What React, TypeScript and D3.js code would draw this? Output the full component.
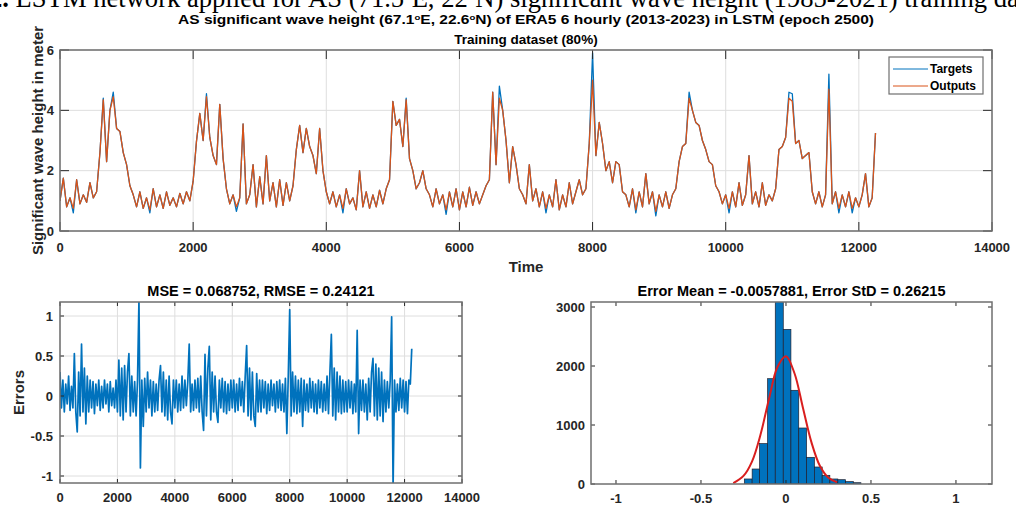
import React from "react";
import * as d3 from "d3";

// time step between stored samples (6-hourly index)
const seriesStep = 50;

// LSTM outputs, one value every 50 steps
const outputs = [
  1.0, 1.75, 0.8, 1.1, 0.75, 1.7, 0.9, 1.2, 0.95, 1.6,
  1.1, 1.3, 2.6, 4.35, 2.3, 4.0, 4.45, 3.4, 3.3, 2.6,
  2.2, 1.5, 1.2, 0.8, 1.3, 0.75, 1.1, 0.7, 1.4, 0.8,
  1.2, 0.75, 1.3, 0.85, 1.1, 0.8, 1.25, 0.9, 1.3, 1.0,
  1.65, 2.97, 3.9, 3.0, 4.45, 3.1, 2.5, 2.2, 4.2, 2.4,
  1.4, 0.9, 1.2, 0.8, 1.1, 3.55, 0.9, 1.2, 2.2, 0.8,
  1.8, 0.9, 2.5, 1.0, 1.6, 0.8, 1.7, 0.85, 1.6, 1.0,
  1.5, 2.7, 3.5, 2.6, 3.4, 2.8, 2.5, 1.9, 3.4, 2.0,
  1.3, 0.9, 1.3, 0.8, 1.2, 0.75, 1.4, 0.9, 1.1, 0.7,
  2.0, 0.8, 1.3, 0.75, 1.2, 0.8, 1.35, 0.9, 1.4, 1.7,
  4.3, 3.5, 3.7, 2.8, 4.35, 2.4, 2.0, 1.4, 1.6, 2.0,
  1.4, 1.2, 0.8, 1.4, 0.9, 1.2, 0.7, 1.3, 0.8, 1.4,
  0.7, 1.3, 0.8, 1.45, 0.85, 1.3, 0.9, 1.2, 1.5, 1.7,
  4.6, 2.2, 4.4, 4.0, 3.0, 1.6, 2.8, 2.2, 1.4, 1.2,
  0.9, 2.2, 1.0, 1.4, 0.8, 1.3, 0.75, 1.2, 0.8, 1.7,
  0.7, 1.2, 0.8, 1.6, 0.9, 1.3, 1.7, 1.2, 1.4, 2.9,
  5.0, 2.5, 3.6, 2.9, 2.0, 2.3, 1.6, 2.3, 2.2, 1.3,
  1.2, 0.8, 1.4, 0.7, 1.3, 0.8, 1.9, 0.9, 1.3, 0.65,
  1.2, 0.8, 1.3, 0.75, 1.2, 1.4, 2.3, 2.8, 2.9, 4.4,
  4.0, 3.6, 3.5, 3.0, 2.7, 2.3, 2.2, 1.5, 1.3, 0.9,
  1.2, 0.75, 1.3, 0.8, 1.6, 0.85, 1.2, 2.5, 0.9, 1.3,
  0.8, 1.6, 0.85, 1.2, 1.0, 1.4, 2.7, 2.8, 3.1, 4.4,
  4.3, 2.9, 3.0, 2.4, 2.5, 2.6, 1.3, 0.9, 1.3, 0.8,
  1.2, 4.7, 0.9, 1.3, 0.75, 1.2, 0.8, 1.3, 0.75, 1.1,
  0.8, 1.2, 1.9, 0.8, 1.1, 3.25,
];

// places where the blue targets show past the orange outputs: [time, value]
const targetDiffs: [number, number][] = [
  [200, 0.6], [650, 4.4], [800, 4.6], [1350, 0.6], [2200, 4.55],
  [2650, 0.65], [4250, 0.6], [5200, 4.4], [5800, 0.55], [6600, 4.8],
  [7300, 0.6], [8000, 5.9], [8650, 0.6], [8950, 0.5], [9450, 4.6],
  [10050, 0.6], [10950, 4.6], [11000, 4.55], [11550, 5.2], [11700, 0.6],
  [11900, 0.6],
];

// errors, one value every 50 steps
const errors = [
  0.3, -0.15, 0.2, -0.2, 0.15, -0.1, 0.25, -0.18, 0.12, -0.15,
  0.53, -0.2, -0.45, 0.3, -0.25, 0.65, -0.2, 0.35, -0.35, 0.25,
  -0.2, 0.2, -0.15, 0.18, -0.22, 0.15, -0.12, 0.2, -0.18, 0.12,
  -0.15, 0.2, -0.1, 0.15, -0.2, 0.18, -0.12, 0.1, -0.15, 0.2,
  -0.2, 0.45, -0.25, 0.35, -0.3, 0.38, -0.2, 0.3, 0.53, -0.25,
  0.25, -0.2, 0.18, -0.25, 0.2, 1.2, -0.9, 0.2, -0.38, 0.22,
  -0.2, 0.3, -0.15, 0.2, -0.25, 0.18, -0.2, 0.15, -0.18, 0.2,
  0.38, -0.2, 0.3, -0.25, 0.2, -0.3, 0.25, -0.2, -0.35, 0.2,
  -0.15, 0.2, -0.2, 0.15, -0.18, 0.25, -0.15, 0.2, -0.12, 0.18,
  0.65, -0.2, 0.15, -0.18, 0.2, -0.15, 0.22, -0.2, 0.25, -0.2,
  -0.43, 0.52, -0.25, 0.35, 0.62, -0.3, 0.3, -0.2, 0.25, -0.2,
  -0.33, 0.2, -0.15, 0.22, -0.2, 0.18, -0.22, 0.15, -0.18, 0.2,
  -0.15, 0.2, -0.2, 0.15, -0.18, 0.22, -0.12, 0.18, -0.2, 0.25,
  0.63, -0.25, 0.35, -0.3, 0.3, -0.25, -0.38, 0.28, -0.2, 0.2,
  -0.2, 0.2, -0.15, 0.18, -0.22, 0.15, -0.18, 0.2, -0.12, 0.15,
  -0.2, 0.18, -0.15, 0.2, -0.18, 0.15, -0.2, 0.22, -0.47, 0.25,
  1.08, -0.25, 0.3, -0.2, 0.25, -0.22, 0.2, -0.2, 0.22, -0.38,
  0.2, -0.18, 0.15, -0.2, 0.22, -0.15, 0.18, -0.2, 0.15, -0.22,
  0.2, -0.15, 0.18, -0.2, 0.15, -0.18, 0.25, -0.22, 0.3, 0.77,
  -0.25, 0.35, -0.3, 0.3, -0.2, 0.25, -0.22, 0.2, -0.2, 0.18,
  -0.2, 0.2, -0.15, 0.18, -0.22, 0.15, -0.2, 0.82, -0.47, 0.2,
  -0.18, 0.2, -0.2, 0.15, -0.3, 0.22, -0.2, 0.3, 0.47, -0.25,
  0.4, -0.3, 0.35, -0.25, 0.3, -0.32, 0.2, -0.2, 0.18, -0.15,
  0.2, 0.99, -1.15, 0.2, -0.2, 0.15, -0.18, 0.22, -0.15, 0.2,
  -0.2, 0.18, -0.22, 0.2, 0.15, 0.59,
];

// histogram of errors
const binEdges = [-0.245, -0.199, -0.155, -0.108, -0.063, -0.016, 0.029, 0.075,
  0.121, 0.167, 0.213, 0.258, 0.305, 0.35, 0.396, 0.441];
const binCounts = [85, 254, 684, 1785, 3200, 2621, 1588, 949, 452, 288, 147, 85, 73, 40, 22];

// red normal fit
const fitX = [-0.31, -0.25, -0.2, -0.15, -0.1, -0.05, 0, 0.05, 0.1, 0.15, 0.2, 0.25, 0.3];
const fitY = [15, 137, 380, 835, 1441, 1983, 2166, 1877, 1289, 705, 304, 104, 29];

const timeTicks = [0, 2000, 4000, 6000, 8000, 10000, 12000, 14000];
const waveTicks = [0, 2, 4, 6];
const errTicks = [-1, -0.5, 0, 0.5, 1];
const histXTicks = [-1, -0.5, 0, 0.5, 1];
const histYTicks = [0, 1000, 2000, 3000];

const FONT = "'Liberation Sans', Arial, sans-serif";
const BLUE = "#0072BD";
const ORANGE = "#D95319";
const TEXT = "#262626";

type Lin = d3.ScaleLinear<number, number>;

function Grid({ x, y, xTicks, yTicks }: { x: Lin; y: Lin; xTicks: number[]; yTicks: number[] }) {
  const [x0, x1] = x.range();
  const [y0, y1] = y.range();
  return (
    <g stroke="#dedede" strokeWidth={1}>
      {xTicks.map((t) => (
        <line key={"gx" + t} x1={x(t)} x2={x(t)} y1={y0} y2={y1} />
      ))}
      {yTicks.map((t) => (
        <line key={"gy" + t} x1={x0} x2={x1} y1={y(t)} y2={y(t)} />
      ))}
    </g>
  );
}

function Box({ x, y, xTicks, yTicks, tickLen, xLabelY, yLabelX }: {
  x: Lin; y: Lin; xTicks: number[]; yTicks: number[]; tickLen: number; xLabelY: number; yLabelX: number;
}) {
  const [x0, x1] = x.range();
  const [y0, y1] = y.range();
  return (
    <g>
      <g stroke={TEXT} strokeWidth={1}>
        {xTicks.map((t) => (
          <g key={"tx" + t}>
            <line x1={x(t)} x2={x(t)} y1={y0} y2={y0 - tickLen} />
            <line x1={x(t)} x2={x(t)} y1={y1} y2={y1 + tickLen} />
          </g>
        ))}
        {yTicks.map((t) => (
          <g key={"ty" + t}>
            <line x1={x0} x2={x0 + tickLen} y1={y(t)} y2={y(t)} />
            <line x1={x1} x2={x1 - tickLen} y1={y(t)} y2={y(t)} />
          </g>
        ))}
      </g>
      <rect x={x0} y={y1} width={x1 - x0} height={y0 - y1} fill="none" stroke="#6f6f6f" strokeWidth={1.5} />
      <g fontFamily={FONT} fontWeight="bold" fontSize={13} fill={TEXT}>
        {xTicks.map((t) => (
          <text key={"lx" + t} x={x(t)} y={xLabelY} textAnchor="middle">{String(t)}</text>
        ))}
        {yTicks.map((t) => (
          <text key={"ly" + t} x={yLabelX} y={y(t) + 4.5} textAnchor="end">{String(t)}</text>
        ))}
      </g>
    </g>
  );
}

export default function App() {
  const times = outputs.map((_, i) => i * seriesStep);
  const diffMap = new Map(targetDiffs);
  const targets = outputs.map((v, i) => diffMap.get(times[i]) ?? v);

  // top panel
  const xTop = d3.scaleLinear().domain([0, 14000]).range([60, 992]);
  const yTop = d3.scaleLinear().domain([0, 6]).range([231, 50]);
  const lineTop = (vals: number[]) =>
    d3.line<number>().x((_, i) => xTop(times[i])).y((d) => yTop(d))(vals) || "";

  // errors panel
  const xErr = d3.scaleLinear().domain([0, 14000]).range([60, 462]);
  const yErr = d3.scaleLinear().domain([-1.0875, 1.175]).range([483, 302]);
  const errPath = d3.line<number>().x((_, i) => xErr(times[i])).y((d) => yErr(d))(errors) || "";

  // histogram panel
  const xHist = d3.scaleLinear().domain([-1.147, 1.212]).range([591, 992]);
  const yHist = d3.scaleLinear().domain([0, 3085]).range([484, 302]);
  const fitPath = d3.line<number>()
    .x((d) => xHist(d))
    .y((_, i) => yHist(fitY[i]))
    .curve(d3.curveCatmullRom)(fitX) || "";

  return (
    <div style={{ position: "absolute", left: 0, top: 0 }}>
      <svg width={1016} height={510} style={{ display: "block", background: "#fff" }}>
        <defs>
          <clipPath id="clipTop"><rect x={60} y={50} width={932} height={181} /></clipPath>
          <clipPath id="clipErr"><rect x={60} y={302} width={402} height={181} /></clipPath>
          <clipPath id="clipHist"><rect x={591} y={302} width={401} height={182} /></clipPath>
        </defs>

        {/* cut-off caption line of the paper */}
        <text x={-11} y={7} fontFamily="'Liberation Serif', 'Times New Roman', serif" fontSize={26.6} fill="#000">
          <tspan fontWeight="bold">2.</tspan>
          <tspan> LSTM network applied for AS (71.5</tspan>
          <tspan dy={-9} fontSize={15}>o</tspan>
          <tspan dy={9}>E, 22</tspan>
          <tspan dy={-9} fontSize={15}>o</tspan>
          <tspan dy={9}>N) significant wave height (1985-2021) training dataset</tspan>
        </text>

        {/* titles */}
        <text x={526} y={24} textAnchor="middle" fontFamily={FONT} fontWeight="bold" fontSize={13} fill="#000"
          textLength={696} lengthAdjust="spacingAndGlyphs">
          <tspan>AS significant wave height (67.1</tspan>
          <tspan dy={-4} fontSize={8}>o</tspan>
          <tspan dy={4}>E, 22.6</tspan>
          <tspan dy={-4} fontSize={8}>o</tspan>
          <tspan dy={4}>N) of ERA5 6 hourly (2013-2023) in LSTM (epoch 2500)</tspan>
        </text>
        <text x={526} y={44} textAnchor="middle" fontFamily={FONT} fontWeight="bold" fontSize={13.5} fill="#000">
          Training dataset (80%)
        </text>

        {/* top panel */}
        <Grid x={xTop} y={yTop} xTicks={timeTicks} yTicks={waveTicks} />
        <g clipPath="url(#clipTop)" fill="none" strokeWidth={1.3} strokeLinejoin="round">
          <path d={lineTop(targets)} stroke={BLUE} />
          <path d={lineTop(outputs)} stroke={ORANGE} />
        </g>
        <Box x={xTop} y={yTop} xTicks={timeTicks} yTicks={waveTicks} tickLen={9} xLabelY={252} yLabelX={54} />
        <text x={526} y={272} textAnchor="middle" fontFamily={FONT} fontWeight="bold" fontSize={15} fill={TEXT}>Time</text>
        <text transform="translate(43,140.5) rotate(-90)" textAnchor="middle" fontFamily={FONT} fontWeight="bold"
          fontSize={15} fill={TEXT}>Significant wave height in meter</text>

        {/* legend */}
        <g>
          <rect x={889} y={57} width={94} height={37} fill="#fff" stroke="#6f6f6f" strokeWidth={1.2} />
          <line x1={893} x2={928} y1={69} y2={69} stroke={BLUE} strokeWidth={1} />
          <line x1={893} x2={928} y1={86} y2={86} stroke={ORANGE} strokeWidth={1} />
          <g fontFamily={FONT} fontWeight="bold" fontSize={12} fill="#000">
            <text x={930} y={73}>Targets</text>
            <text x={930} y={90}>Outputs</text>
          </g>
        </g>

        {/* errors panel */}
        <text x={261} y={296} textAnchor="middle" fontFamily={FONT} fontWeight="bold" fontSize={14.5} fill="#000">
          MSE = 0.068752, RMSE = 0.24121
        </text>
        <Grid x={xErr} y={yErr} xTicks={timeTicks} yTicks={errTicks} />
        <g clipPath="url(#clipErr)">
          <path d={errPath} fill="none" stroke={BLUE} strokeWidth={1.7} strokeLinejoin="round" />
        </g>
        <Box x={xErr} y={yErr} xTicks={timeTicks} yTicks={errTicks} tickLen={4} xLabelY={502} yLabelX={53} />
        <text transform="translate(24,392.5) rotate(-90)" textAnchor="middle" fontFamily={FONT} fontWeight="bold"
          fontSize={15} fill={TEXT}>Errors</text>

        {/* histogram panel */}
        <text x={791.5} y={296} textAnchor="middle" fontFamily={FONT} fontWeight="bold" fontSize={14.5} fill="#000">
          Error Mean = -0.0057881, Error StD = 0.26215
        </text>
        <g clipPath="url(#clipHist)">
          {binCounts.map((c, i) => (
            <rect key={i} x={xHist(binEdges[i])} y={yHist(c)} width={xHist(binEdges[i + 1]) - xHist(binEdges[i])}
              height={yHist(0) - yHist(c)} fill={BLUE} stroke="#1f1f2e" strokeWidth={0.7} />
          ))}
          <path d={fitPath} fill="none" stroke="#d91e1e" strokeWidth={2} />
        </g>
        <Box x={xHist} y={yHist} xTicks={histXTicks} yTicks={histYTicks} tickLen={4} xLabelY={503} yLabelX={585} />
      </svg>
    </div>
  );
}
